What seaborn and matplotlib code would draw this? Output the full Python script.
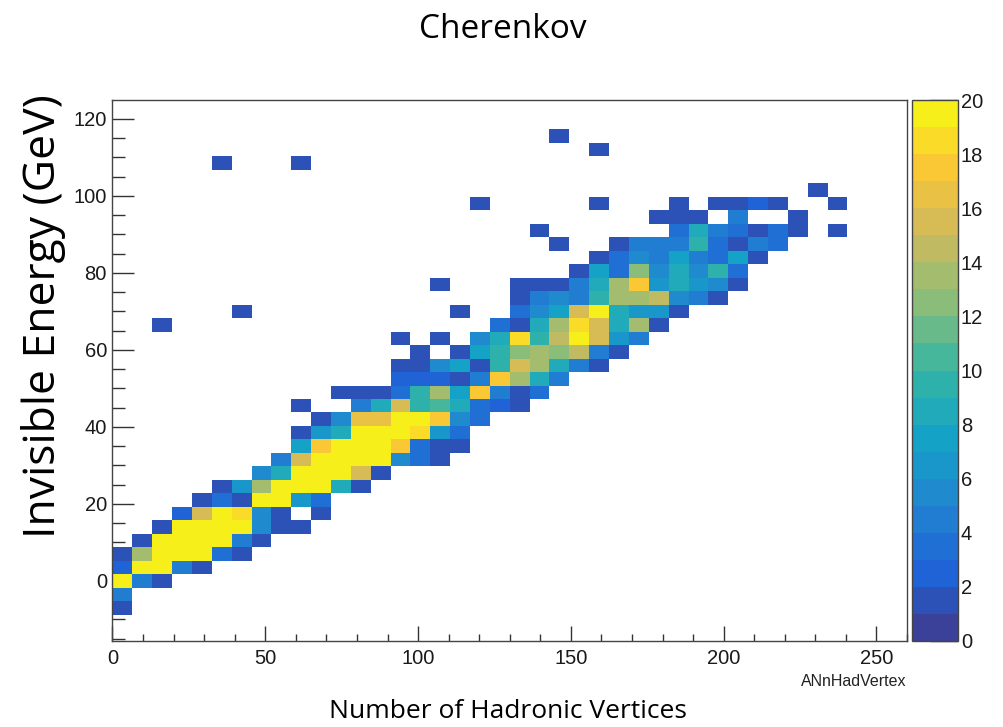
import numpy as np
import pandas as pd
import matplotlib
matplotlib.use("Agg")
import matplotlib.pyplot as plt
from matplotlib.colors import LinearSegmentedColormap, ListedColormap
from matplotlib.ticker import MultipleLocator
import seaborn as sns

# ---------------- data (bin contents) ----------------
# histogram binning: 40 x 40 bins
N_VERTEX_BINS, VERTEX_MIN, VERTEX_MAX = 40, 0.0, 260.0
N_ENERGY_BINS, ENERGY_MIN, ENERGY_MAX = 40, -15.75, 124.25

# each row: energy-bin centre (GeV) -> {vertex bin index: entries}
energy_centres = [-7.0, -3.5, 0.0, 3.5, 7.0, 10.5, 14.0, 17.5, 21.0, 24.5, 28.0,
                  31.5, 35.0, 38.5, 42.0, 45.5, 49.0, 52.5, 56.0, 59.5, 63.0,
                  66.5, 70.0, 73.5, 77.0, 80.5, 84.0, 87.5, 91.0, 94.5, 98.0,
                  101.5, 108.5, 112.0, 115.5]
row_entries = [
    {0: 1},
    {0: 4},
    {0: 22, 1: 4, 2: 1},
    {0: 2, 1: 22, 2: 19, 3: 4, 4: 1},
    {0: 1, 1: 13, 2: 24, 3: 26, 4: 23, 5: 3, 6: 1},
    {1: 1, 2: 23, 3: 27, 4: 25, 5: 22, 6: 4, 7: 1},
    {2: 1, 3: 22, 4: 28, 5: 26, 6: 21, 7: 5, 8: 1, 9: 1},
    {3: 2, 4: 15, 5: 24, 6: 18, 7: 5, 8: 1, 10: 1},
    {4: 1, 5: 3, 6: 1, 7: 25, 8: 23, 9: 6, 10: 3},
    {5: 1, 6: 6, 7: 13, 8: 22, 9: 26, 10: 22, 11: 8, 12: 1},
    {7: 5, 8: 8, 9: 24, 10: 27, 11: 22, 12: 15, 13: 1},
    {8: 4, 9: 15, 10: 23, 11: 28, 12: 26, 13: 22, 14: 5, 15: 3, 16: 1},
    {9: 7, 10: 17, 11: 22, 12: 27, 13: 23, 14: 17, 15: 3, 16: 1, 17: 1},
    {9: 1, 10: 6, 11: 8, 12: 21, 13: 23, 14: 21, 15: 18, 16: 6, 17: 3},
    {10: 1, 11: 5, 12: 16, 13: 16, 14: 21, 15: 21, 16: 17, 17: 5, 18: 3},
    {9: 1, 12: 4, 13: 8, 14: 15, 15: 9, 16: 10, 17: 8, 18: 3, 19: 2, 20: 1},
    {11: 1, 12: 1, 13: 1, 14: 3, 15: 9, 16: 13, 17: 7, 18: 17, 19: 4, 20: 1, 21: 3},
    {14: 2, 15: 2, 16: 2, 17: 1, 18: 4, 19: 17, 20: 13, 21: 8, 22: 4},
    {14: 1, 15: 1, 16: 5, 17: 7, 18: 1, 19: 9, 20: 15, 21: 13, 22: 8, 23: 4, 24: 1},
    {15: 1, 17: 1, 18: 7, 19: 9, 20: 12, 21: 13, 22: 12, 23: 14, 24: 4, 25: 1},
    {14: 1, 16: 1, 18: 5, 19: 8, 20: 18, 21: 9, 22: 14, 23: 21, 24: 15, 25: 6, 26: 4},
    {2: 1, 19: 3, 20: 1, 21: 8, 22: 13, 23: 18, 24: 15, 25: 8, 26: 13, 27: 1},
    {6: 1, 17: 1, 20: 3, 21: 5, 22: 7, 23: 15, 24: 21, 25: 8, 26: 6, 27: 6, 28: 1},
    {20: 1, 21: 4, 22: 5, 23: 4, 24: 9, 25: 13, 26: 13, 27: 14, 28: 5, 29: 4, 30: 1},
    {16: 1, 20: 1, 21: 1, 22: 1, 23: 4, 24: 8, 25: 13, 26: 17, 27: 6, 28: 8, 29: 6, 30: 5, 31: 1},
    {23: 1, 24: 7, 25: 3, 26: 12, 27: 5, 28: 8, 29: 5, 30: 9, 31: 3},
    {24: 1, 25: 3, 26: 5, 27: 4, 28: 7, 29: 4, 30: 3, 31: 7, 32: 1},
    {22: 1, 25: 1, 26: 4, 27: 4, 28: 4, 29: 9, 30: 3, 31: 1, 32: 4, 33: 3},
    {21: 1, 28: 3, 29: 8, 30: 4, 31: 3, 32: 1, 33: 3, 34: 1, 36: 1},
    {27: 1, 28: 1, 29: 1, 31: 4, 34: 1},
    {18: 1, 24: 1, 28: 1, 30: 1, 31: 1, 32: 2, 33: 1, 36: 1},
    {35: 1},
    {5: 1, 9: 1},
    {24: 1},
    {22: 1},
]

x_tick_values = [0, 50, 100, 150, 200, 250]
y_tick_values = [0, 20, 40, 60, 80, 100, 120]
z_tick_values = list(range(0, 21, 2))

title_text = "Cherenkov"
x_title = "Number of Hadronic Vertices"
y_title = "Invisible Energy (GeV)"
root_axis_name = "ANnHadVertex"

# ---------------- build long table ----------------
vertex_width = (VERTEX_MAX - VERTEX_MIN) / N_VERTEX_BINS
x_edges = np.linspace(VERTEX_MIN, VERTEX_MAX, N_VERTEX_BINS + 1)
y_edges = np.linspace(ENERGY_MIN, ENERGY_MAX, N_ENERGY_BINS + 1)
recs = []
for ec, row in zip(energy_centres, row_entries):
    for ib, n in row.items():
        recs.append({"nvtx": VERTEX_MIN + (ib + 0.5) * vertex_width,
                     "evis": ec, "entries": n})
df = pd.DataFrame(recs)

# ROOT kBird palette, 20 discrete contour levels (slightly muted like the scan)
stops = [0.0, 0.125, 0.25, 0.375, 0.5, 0.625, 0.75, 0.875, 1.0]
red = [0.2082, 0.0592, 0.0780, 0.0232, 0.1802, 0.5301, 0.8186, 0.9956, 0.9764]
green = [0.1664, 0.3599, 0.5041, 0.6419, 0.7178, 0.7492, 0.7328, 0.7862, 0.9832]
blue = [0.5293, 0.8684, 0.8385, 0.7914, 0.6425, 0.4662, 0.3499, 0.1968, 0.0539]
bird = LinearSegmentedColormap.from_list(
    "bird", list(zip(stops, zip(red, green, blue))))
levels = []
for k in range(20):
    c = np.array(bird((k + 0.5) / 20)[:3])
    mix = 0.12 - 0.09 * (k / 19.0)
    c = (1 - mix) * c + mix * 0.62
    levels.append(tuple(c))
cmap = ListedColormap(levels)

# ---------------- plot ----------------
sns.set_theme(style="white")
plt.rcParams['font.family'] = ['Liberation Sans', 'DejaVu Sans']

W, H = 1004, 727
fig = plt.figure(figsize=(W / 100, H / 100), dpi=100)
ax = fig.add_axes([112.5 / W, 1 - 641 / H, (907 - 112.5) / W, (641 - 100) / H])
cax = fig.add_axes([912 / W, 1 - 641 / H, (958 - 912) / W, (641 - 100) / H])

sns.histplot(data=df, x="nvtx", y="evis", weights="entries",
             bins=[x_edges, y_edges], cmap=cmap, vmin=0, vmax=20,
             cbar=True, cbar_ax=cax, ax=ax)

ax.set_xlim(0, 260)
ax.set_ylim(-15.6, 124.9)
ax.set_xlabel("")
ax.set_ylabel("")
ax.set_xticks(x_tick_values)
ax.set_yticks(y_tick_values)
ax.xaxis.set_minor_locator(MultipleLocator(10))
ax.yaxis.set_minor_locator(MultipleLocator(5))
ax.tick_params(axis="x", which="major", direction="in", length=10.8, width=1.0,
               color="#333333", labelsize=14.5, labelcolor="#1a1a1a", pad=6,
               bottom=True, top=False)
ax.tick_params(axis="x", which="minor", direction="in", length=5.3, width=1.0,
               color="#333333", bottom=True, top=False)
ax.tick_params(axis="y", which="major", direction="in", length=16, width=1.0,
               color="#333333", labelsize=14.5, labelcolor="#1a1a1a", pad=4,
               left=True, right=False)
ax.tick_params(axis="y", which="minor", direction="in", length=9, width=1.0,
               color="#333333", left=True, right=False)
for s in ax.spines.values():
    s.set_visible(True)
    s.set_color("#444444")
    s.set_linewidth(1.0)

cb = ax.collections[0].colorbar
cb.set_ticks(z_tick_values)
cax.yaxis.set_ticks_position("right")
cax.tick_params(axis="y", which="major", direction="in", length=20, width=1.0,
                color="#333333", labelsize=14.5, labelcolor="#1a1a1a", pad=2,
                right=True, left=False)
cax.tick_params(axis="y", which="minor", length=0)
cb.outline.set_edgecolor("#444444")
cb.outline.set_linewidth(1.0)

fig.text(503 / W, 1 - 29 / H, title_text, ha="center", va="center",
         fontsize=24, family=["Open Sans", "DejaVu Sans"], color="black")
fig.text(508 / W, 1 - 711 / H, x_title, ha="center", va="center",
         fontsize=19, family=["Open Sans", "DejaVu Sans"], color="black")
fig.text(44 / W, 1 - 316 / H, y_title, ha="center", va="center", rotation=90,
         fontsize=32, family=["Open Sans", "DejaVu Sans"], color="black")
fig.text(906 / W, 1 - 681 / H, root_axis_name, ha="right", va="center",
         fontsize=11.5, color="#222222")

fig.savefig("out.png", dpi=100)
